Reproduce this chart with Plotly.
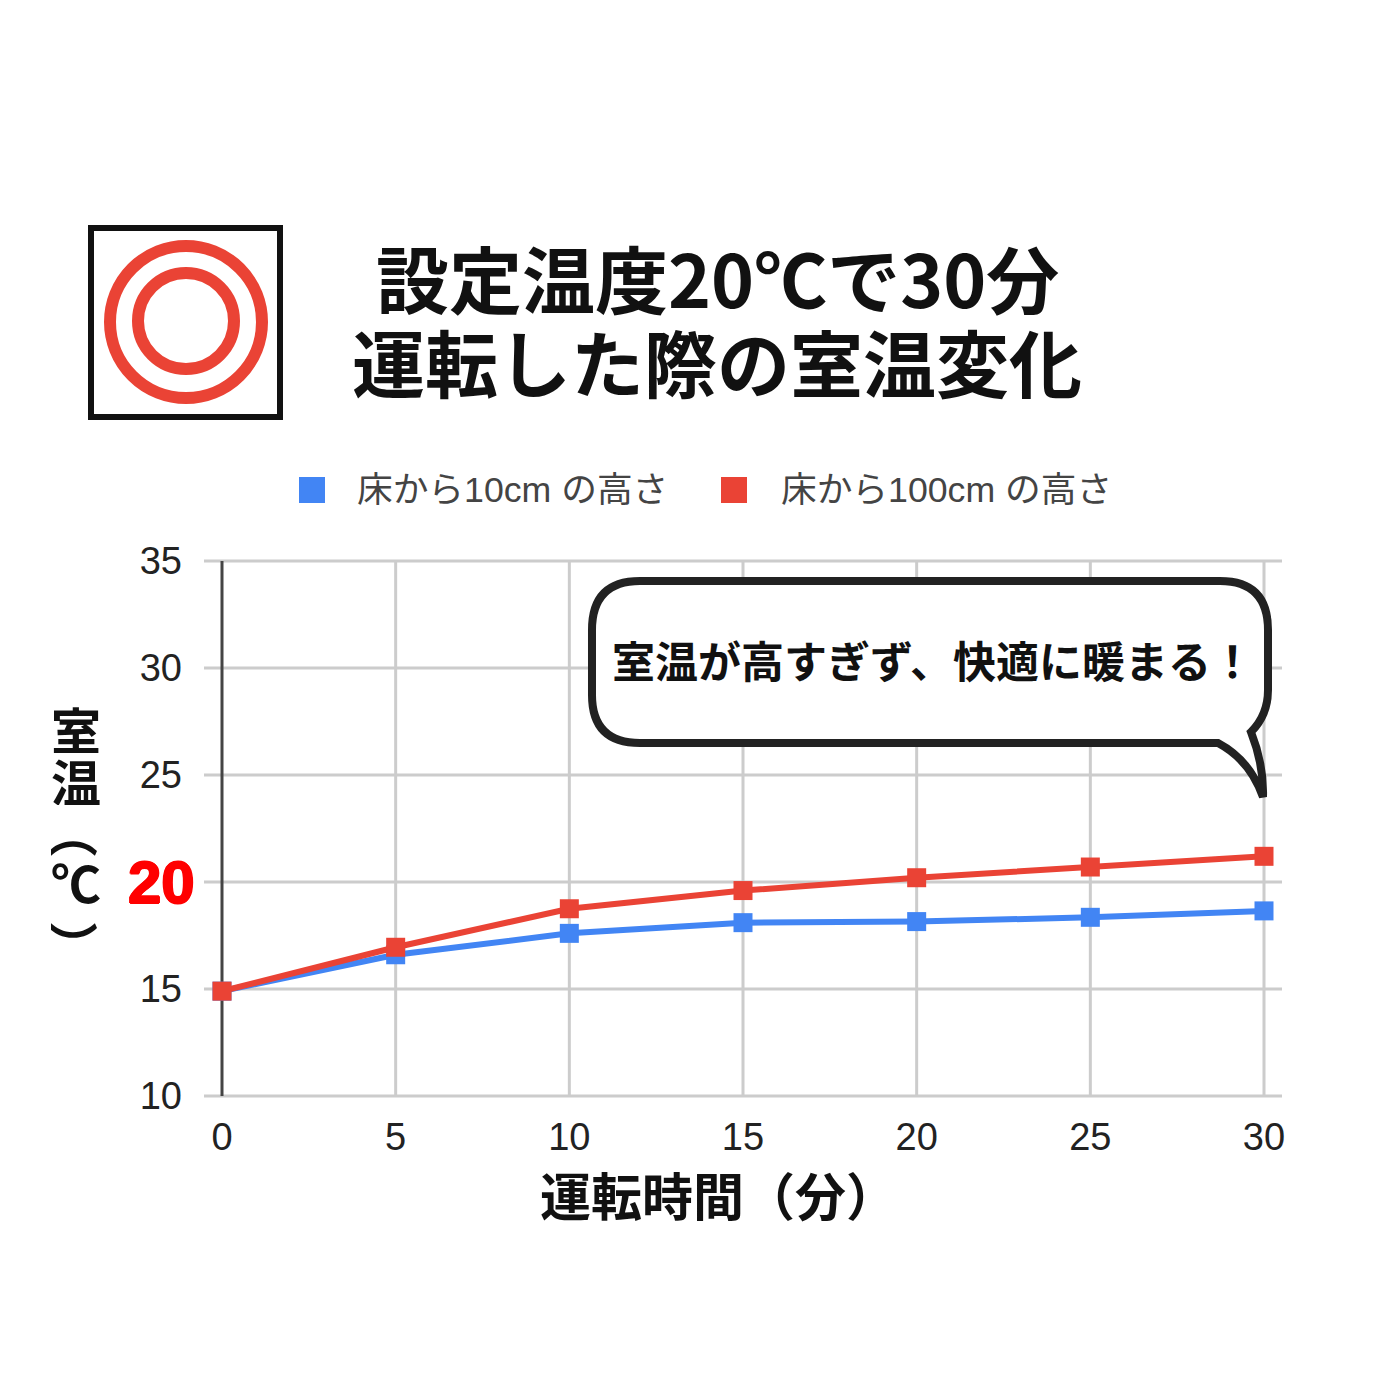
import plotly.graph_objects as go

minutes = [0, 5, 10, 15, 20, 25, 30]
temp_10cm = [14.9, 16.6, 17.6, 18.1, 18.15, 18.35, 18.65]
temp_100cm = [14.9, 16.95, 18.75, 19.6, 20.2, 20.7, 21.2]
x_ticks = [0, 5, 10, 15, 20, 25, 30]
y_ticks = [10, 15, 20, 25, 30, 35]
y_labels = ['10', '15', '', '25', '30', '35']
red_tick = 20
name_10cm = '床から10cm の高さ'
name_100cm = '床から100cm の高さ'
title_lines = ['設定温度20℃で30分', '運転した際の室温変化']
bubble_text = '室温が高すぎず、快適に暖まる！'
xaxis_text = '運転時間（分）'

JP = 'Noto Sans CJK JP'
LEGEND_FONT = 'Liberation Sans, Noto Sans CJK JP'
BLUE = '#4285f4'
RED = '#ea4335'
GRID = '#cccccc'

# pixel helpers for paper coords, the page body has an 8px margin
def px(x):
    return (x - 8) / 1400
def py(y):
    return 1 - (y - 8) / 1400

PLOT_L, PLOT_R, PLOT_T, PLOT_B = 222, 1264, 561, 1096

fig = go.Figure()
fig.add_trace(go.Scatter(x=minutes, y=temp_10cm, mode='lines+markers', name=name_10cm, cliponaxis=False,
                         line=dict(color=BLUE, width=6), marker=dict(symbol='square', size=19, color=BLUE)))
fig.add_trace(go.Scatter(x=minutes, y=temp_100cm, mode='lines+markers', name=name_100cm, cliponaxis=False,
                         line=dict(color=RED, width=6), marker=dict(symbol='square', size=19, color=RED)))

fig.update_layout(
    width=1400, height=1400, autosize=False,
    paper_bgcolor='white', plot_bgcolor='white',
    font=dict(family='Liberation Sans', color='#222222'),
    margin=dict(l=0, r=0, t=0, b=0),
    showlegend=False,
)
fig.update_xaxes(domain=[px(PLOT_L), px(PLOT_R)], range=[0, 30], tickvals=x_ticks, automargin=False,
                 showgrid=False, zeroline=False,
                 showline=False, ticks='', tickfont=dict(size=38, color='#222222'), ticklabelstandoff=15)
fig.update_yaxes(domain=[py(PLOT_B), py(PLOT_T)], range=[10, 35], tickvals=y_ticks, ticktext=y_labels, automargin=False,
                 showgrid=False, zeroline=False,
                 showline=False, ticks='', tickfont=dict(size=38, color='#222222'), ticklabelstandoff=39)

# grid drawn as paper shapes so the lines are not clipped at the plot edge
y_span = py(PLOT_T) - py(PLOT_B)
x_span = px(PLOT_R) - px(PLOT_L)
for yv in y_ticks:
    yp = py(PLOT_B) + (yv - y_ticks[0]) / (y_ticks[-1] - y_ticks[0]) * y_span
    fig.add_shape(type='line', xref='paper', yref='paper', x0=px(204), x1=px(1282), y0=yp, y1=yp,
                  line=dict(color=GRID, width=3), layer='below')
for xv in x_ticks[1:]:
    xp = px(PLOT_L) + xv / x_ticks[-1] * x_span
    fig.add_shape(type='line', xref='paper', yref='paper', x0=xp, x1=xp, y0=py(PLOT_B), y1=py(PLOT_T),
                  line=dict(color=GRID, width=3), layer='below')
fig.add_shape(type='line', xref='paper', yref='paper', x0=px(PLOT_L), x1=px(PLOT_L), y0=py(PLOT_B), y1=py(PLOT_T),
              line=dict(color='#444444', width=3), layer='below')

# icon
fig.add_shape(type='rect', xref='paper', yref='paper', x0=px(91), x1=px(280), y0=py(417), y1=py(228),
              line=dict(color='#111111', width=6))
fig.add_shape(type='circle', xref='paper', yref='paper', x0=px(110), x1=px(262), y0=py(398), y1=py(246),
              line=dict(color=RED, width=12))
fig.add_shape(type='circle', xref='paper', yref='paper', x0=px(138), x1=px(234), y0=py(369), y1=py(273),
              line=dict(color=RED, width=12))

# speech bubble
bubble = ('M 640 581 L 1220 581 Q 1268 581 1268 630 L 1268 690 Q 1268 715 1251 732 '
          'Q 1264 765 1263 797 Q 1250 760 1218 743 L 640 743 Q 592 743 592 695 L 592 630 Q 592 581 640 581 Z')
parts = bubble.split()
path = []
i = 0
while i < len(parts):
    tok = parts[i]
    if tok in 'MLQZ':
        path.append(tok)
        i += 1
    else:
        path.append(f'{px(float(tok)):.5f},{py(float(parts[i + 1])):.5f}')
        i += 2
fig.add_shape(type='path', xref='paper', yref='paper', path=' '.join(path),
              fillcolor='white', line=dict(color='#222222', width=8))

annotations = [
    dict(x=717, y=276, text=f'<b>{title_lines[0]}</b>', size=73, color='#111111', family=JP),
    dict(x=717, y=360, text=f'<b>{title_lines[1]}</b>', size=73, color='#111111', family=JP),
    dict(x=933, y=659, text=f'<b>{bubble_text}</b>', size=43, color='#111111', family=JP),
    dict(x=718, y=1194, text=f'<b>{xaxis_text}</b>', size=51, color='#111111', family=JP),
    dict(x=512, y=490, text=name_10cm, size=35.7, color='#444444', family=LEGEND_FONT),
    dict(x=946, y=490, text=name_100cm, size=35.7, color='#444444', family=LEGEND_FONT),
]
for a in annotations:
    fig.add_annotation(x=px(a['x']), y=py(a['y']), xref='paper', yref='paper', text=a['text'], showarrow=False,
                       font=dict(family=a['family'], size=a['size'], color=a['color']), xanchor='center',
                       yanchor='middle', align='center')

# the red 20 tick is heavier and larger than the others
fig.add_annotation(x=px(161), y=red_tick, xref='paper', yref='y', text=f'<b>{red_tick}</b>', showarrow=False,
                   font=dict(family='Liberation Sans', size=60, color='#ff0000',
                             shadow='1px 0 #ff0000, -1px 0 #ff0000, 0 1px #ff0000, 0 -1px #ff0000'),
                   xanchor='center', yanchor='middle')

# vertical axis title, stacked glyph by glyph
for ch, yp in [('室', 728), ('温', 780), ('（', 833), ('℃', 881), ('）', 946)]:
    fig.add_annotation(x=px(76), y=py(yp), xref='paper', yref='paper', text=f'<b>{ch}</b>', showarrow=False,
                       font=dict(family=JP, size=50, color='#111111'), textangle=90 if ch in '（）' else 0,
                       xanchor='center', yanchor='middle', height=50)

# legend markers
for xc, col in [(312, BLUE), (734, RED)]:
    fig.add_shape(type='rect', xref='paper', yref='paper', x0=px(xc - 13), x1=px(xc + 13), y0=py(503), y1=py(477),
                  fillcolor=col, line=dict(width=0))

fig.write_html("out.html")
